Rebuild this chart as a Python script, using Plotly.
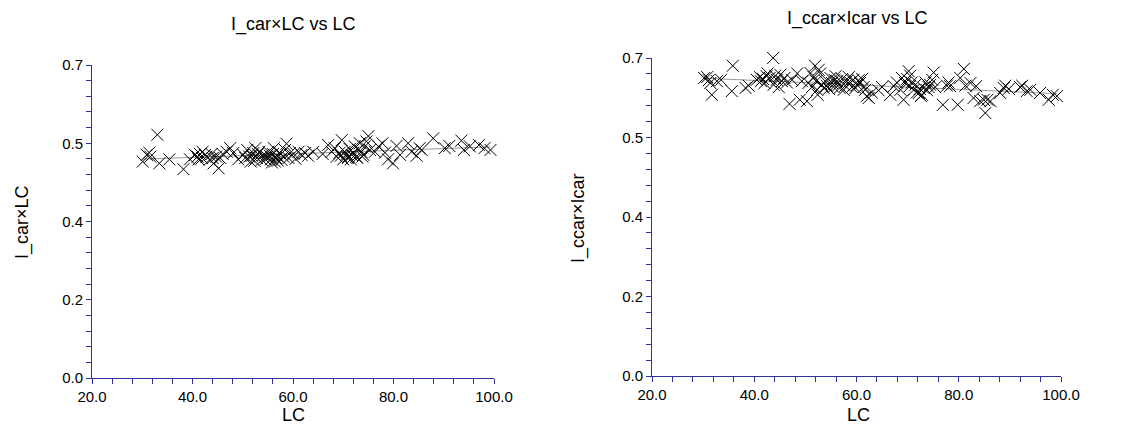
import numpy as np
import plotly.graph_objects as go

# ---- data: LC against the two ratios ----
lc_left = [30.1, 30.9, 31.4, 31.6, 33.0, 33.4, 35.4, 38.2, 39.5, 40.5, 41.0, 41.2, 41.5, 41.9,
           42.0, 42.5, 42.8, 43.4, 43.8, 44.0, 44.2, 44.7, 45.2, 45.5, 46.0, 46.8, 47.5, 48.1,
           49.1, 50.1, 50.5, 50.9, 51.3, 51.6, 51.8, 52.1, 52.3, 52.5, 52.8, 53.0, 53.3, 53.8,
           54.1, 54.5, 54.8, 55.1, 55.4, 55.6, 55.8, 56.0, 56.2, 56.4, 56.6, 56.8, 57.0, 57.3,
           57.7, 58.1, 58.4, 58.7, 59.1, 59.4, 60.1, 60.5, 61.1, 61.7, 62.4, 63.0, 64.0, 65.9,
           67.0, 67.7, 68.3, 68.7, 69.2, 69.5, 69.7, 70.0, 70.3, 70.7, 70.9, 71.0, 71.3, 71.5,
           71.7, 72.0, 72.3, 72.6, 72.8, 73.0, 73.3, 73.6, 73.8, 74.0, 74.3, 74.6, 75.0, 75.3,
           76.3, 77.0, 77.8, 78.3, 78.9, 79.9, 80.6, 81.3, 82.9, 83.6, 84.6, 85.2, 85.6, 87.9,
           90.2, 91.1, 93.5, 94.0, 95.2, 97.0, 98.1, 99.3]
car_lc = [0.484, 0.499, 0.504, 0.495, 0.544, 0.480, 0.489, 0.467, 0.489, 0.499, 0.495, 0.489, 0.501, 0.492,
          0.506, 0.499, 0.495, 0.488, 0.501, 0.492, 0.480, 0.495, 0.469, 0.492, 0.501, 0.506, 0.514, 0.503,
          0.489, 0.499, 0.492, 0.510, 0.495, 0.484, 0.497, 0.503, 0.486, 0.514, 0.492, 0.501, 0.506, 0.488,
          0.499, 0.489, 0.495, 0.506, 0.497, 0.489, 0.482, 0.501, 0.514, 0.484, 0.492, 0.497, 0.486, 0.504,
          0.488, 0.495, 0.510, 0.524, 0.492, 0.503, 0.501, 0.490, 0.506, 0.499, 0.503, 0.497, 0.506, 0.501,
          0.521, 0.506, 0.514, 0.495, 0.503, 0.497, 0.532, 0.489, 0.506, 0.501, 0.492, 0.495, 0.512, 0.489,
          0.499, 0.504, 0.518, 0.495, 0.492, 0.510, 0.525, 0.506, 0.495, 0.499, 0.518, 0.529, 0.541, 0.510,
          0.506, 0.518, 0.525, 0.504, 0.489, 0.480, 0.519, 0.499, 0.525, 0.506, 0.497, 0.514, 0.510, 0.536,
          0.514, 0.519, 0.531, 0.510, 0.518, 0.521, 0.514, 0.510]

lc_right = [30.2, 30.8, 31.1, 31.4, 31.7, 32.7, 33.5, 35.6, 35.8, 38.3, 38.9,
            40.5, 41.1, 41.3, 41.7, 42.0, 42.4, 42.6, 43.0, 43.7, 43.8, 44.1, 44.4, 44.8, 45.1,
            45.4, 45.9, 46.4, 46.9, 47.4, 48.4, 48.9, 49.3, 50.3,
            50.6, 51.0, 51.3, 51.6, 51.9, 52.1, 52.3, 52.4, 52.6, 52.9, 53.2, 53.6, 53.9, 54.2,
            54.6, 54.9, 55.2, 55.5, 55.7, 55.9, 56.2, 56.5, 56.7, 57.2, 57.5, 57.8, 58.1, 58.5,
            58.8, 59.1, 59.4, 59.8, 60.1, 60.4, 60.7, 61.1, 61.4, 61.7, 62.0, 62.4, 63.0, 64.3, 65.0,
            66.6, 67.3, 67.9, 68.6, 68.9, 69.2, 69.5, 69.9, 70.2, 70.4, 70.5, 70.8, 71.2, 71.5,
            71.8, 72.2, 72.4, 72.6, 72.8, 73.1, 73.5, 73.8, 74.1, 74.4, 74.8, 75.1, 75.4,
            76.9, 77.7, 78.0, 78.3, 79.8, 80.3, 81.0, 81.3, 82.3, 82.9, 83.4, 84.2, 84.9, 85.2,
            85.6, 86.2, 88.1, 88.8, 89.1, 89.8, 92.0, 92.4, 93.3, 94.0, 95.9, 97.6, 98.4, 99.2]
ccar_car = [0.656, 0.658, 0.651, 0.645, 0.619, 0.649, 0.652, 0.627, 0.683, 0.634, 0.639,
            0.652, 0.658, 0.649, 0.654, 0.645, 0.660, 0.666, 0.656, 0.700, 0.641, 0.661, 0.652, 0.636, 0.663,
            0.649, 0.656, 0.646, 0.599, 0.652, 0.666, 0.608, 0.649, 0.605,
            0.645, 0.667, 0.636, 0.658, 0.683, 0.649, 0.630, 0.619, 0.674, 0.666, 0.641, 0.634, 0.649, 0.639,
            0.632, 0.656, 0.645, 0.636, 0.652, 0.660, 0.649, 0.641, 0.634, 0.654, 0.630, 0.639, 0.649, 0.658,
            0.646, 0.636, 0.652, 0.634, 0.641, 0.651, 0.645, 0.654, 0.636, 0.630, 0.616, 0.612, 0.624, 0.629, 0.636,
            0.619, 0.638, 0.646, 0.630, 0.656, 0.608, 0.645, 0.654, 0.671, 0.638, 0.661, 0.646, 0.630, 0.641,
            0.624, 0.623, 0.632, 0.616, 0.619, 0.634, 0.646, 0.629, 0.636, 0.641, 0.652, 0.668, 0.636,
            0.597, 0.639, 0.646, 0.638, 0.597, 0.656, 0.676, 0.639, 0.645, 0.612, 0.638, 0.605, 0.608, 0.579,
            0.608, 0.605, 0.623, 0.634, 0.639, 0.632, 0.636, 0.639, 0.627, 0.630, 0.623, 0.608, 0.619, 0.616]

# y-axis tick positions and their printed labels
y_ticks = [0.0, 0.175, 0.35, 0.525, 0.7]
y_tick_text = ["0.0", "0.2", "0.4", "0.5", "0.7"]
x_ticks = [20, 40, 60, 80, 100]
x_tick_text = ["20.0", "40.0", "60.0", "80.0", "100.0"]

AXIS_BLUE = "#30309f"
FONT = "Liberation Sans, Arial, sans-serif"

fig = go.Figure()


def add_panel(xs, ys, xa, ya):
    xs = np.asarray(xs)
    ys = np.asarray(ys)
    slope, icpt = np.polyfit(xs, ys, 1)
    fx = np.array([xs.min(), xs.max()])
    fig.add_trace(go.Scatter(x=fx, y=slope * fx + icpt, mode="lines",
                             line=dict(color="#9a9a9a", width=1),
                             xaxis=xa, yaxis=ya, showlegend=False, hoverinfo="skip"))
    fig.add_trace(go.Scatter(x=xs, y=ys, mode="markers",
                             marker=dict(symbol="x-thin", size=12,
                                         line=dict(width=1, color="black")),
                             xaxis=xa, yaxis=ya, showlegend=False, cliponaxis=False))


add_panel(lc_left, car_lc, "x", "y")
add_panel(lc_right, ccar_car, "x2", "y2")

W, H = 1133, 426


def xaxis_cfg(x0, x1, anchor):
    return dict(domain=[x0 / W, x1 / W], anchor=anchor, range=[20, 100], automargin=False,
                tickmode="array", tickvals=x_ticks, ticktext=x_tick_text,
                ticks="outside", ticklen=5, tickcolor=AXIS_BLUE, tickwidth=1,
                minor=dict(tickmode="linear", tick0=20, dtick=4, ticks="outside",
                           ticklen=5, tickcolor=AXIS_BLUE, tickwidth=1),
                showline=True, linecolor=AXIS_BLUE, linewidth=1,
                showgrid=False, zeroline=False,
                tickfont=dict(family=FONT, size=15, color="black"))


def yaxis_cfg(top, bottom, anchor):
    return dict(domain=[(H - bottom) / H, (H - top) / H], anchor=anchor, range=[0, 0.7],
                automargin=False,
                tickmode="array", tickvals=y_ticks, ticktext=y_tick_text,
                ticks="outside", ticklen=5, tickcolor=AXIS_BLUE, tickwidth=1,
                minor=dict(tickmode="linear", tick0=0, dtick=0.035, ticks="outside",
                           ticklen=5, tickcolor=AXIS_BLUE, tickwidth=1),
                showline=True, linecolor=AXIS_BLUE, linewidth=1,
                showgrid=False, zeroline=False,
                tickfont=dict(family=FONT, size=15, color="black"))


def label(text, px, py, size=18, angle=0):
    return dict(text=text, x=px / W, y=(H - py) / H, xref="paper", yref="paper",
                xanchor="center", yanchor="middle", showarrow=False, textangle=angle,
                font=dict(family=FONT, size=size, color="black"))


fig.update_layout(
    width=W, height=H,
    margin=dict(l=0, r=0, t=0, b=0, pad=0, autoexpand=False),
    paper_bgcolor="white", plot_bgcolor="white",
    xaxis=xaxis_cfg(92, 494, "y"),
    yaxis=yaxis_cfg(65, 378, "x"),
    xaxis2=xaxis_cfg(652, 1061, "y2"),
    yaxis2=yaxis_cfg(58, 376, "x2"),
    annotations=[
        label("I_car×LC vs LC", 293, 25, 18),
        label("I_ccar×Icar vs LC", 857, 18, 18),
        label("I_car×LC", 22, 222, 18, -90),
        label("I_ccar×Icar", 578, 218, 18, -90),
        label("LC", 293, 415),
        label("LC", 858, 415),
    ],
)

fig.write_html("out.html")
